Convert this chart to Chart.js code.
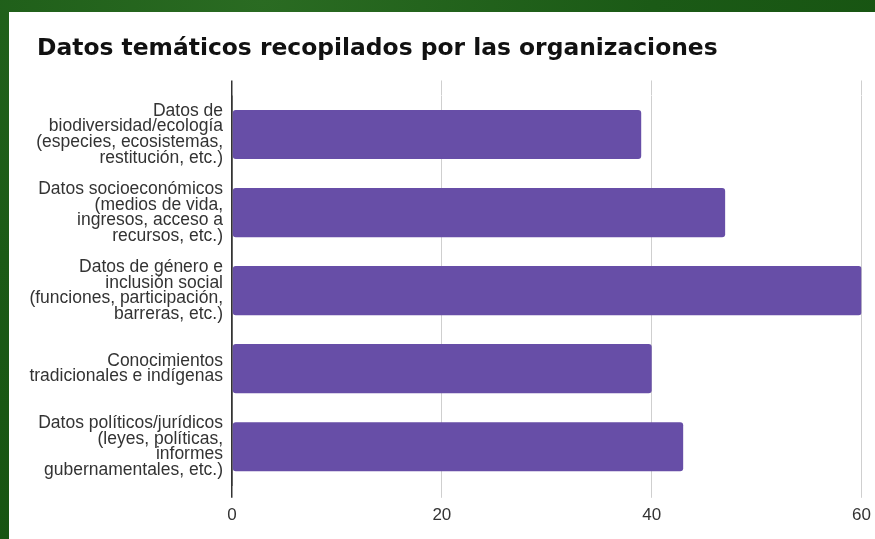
<!DOCTYPE html>
<html>
<head>
<meta charset="utf-8">
<script src="https://cdn.jsdelivr.net/npm/chart.js@4.4.1/dist/chart.umd.min.js"></script>
<style>
  html, body { margin: 0; padding: 0; }
  body {
    width: 875px; height: 539px; overflow: hidden; position: relative;
    background: radial-gradient(ellipse at 30% 0%, #2a6b22 0%, #1b5a16 45%, #15500f 100%);
  }
  #panel {
    position: absolute; left: 9px; top: 12px; width: 866px; height: 527px;
    background: #ffffff;
  }
</style>
</head>
<body>
<div id="panel"><canvas id="c"></canvas></div>
<script>
const titleText = 'Datos temáticos recopilados por las organizaciones';
const categories = [
  ['Datos de', 'biodiversidad/ecología', '(especies, ecosistemas,', 'restitución, etc.)'],
  ['Datos socioeconómicos', '(medios de vida,', 'ingresos, acceso a', 'recursos, etc.)'],
  ['Datos de género e', 'inclusión social', '(funciones, participación,', 'barreras, etc.)'],
  ['Conocimientos', 'tradicionales e indígenas'],
  ['Datos políticos/jurídicos', '(leyes, políticas,', 'informes', 'gubernamentales, etc.)']
];
const values = [39, 47, 60, 40, 43];
const xTicks = [0, 20, 40, 60];

const gridColor = ctx => (ctx.tick && ctx.tick.value === 0) ? '#333333' : '#cfcfcf';
const gridWidth = ctx => (ctx.tick && ctx.tick.value === 0) ? 1.5 : 1;

// shift the title a little to the right of the label column
const titleShift = {
  id: 'titleShift',
  afterLayout(chart) {
    if (chart.titleBlock) { chart.titleBlock.left += 8; chart.titleBlock.right += 8; }
  }
};

new Chart(document.getElementById('c'), {
  type: 'bar',
  plugins: [titleShift],
  data: {
    labels: categories,
    datasets: [{
      data: values,
      backgroundColor: '#674ea7',
      borderRadius: 3,
      borderSkipped: false,
      barPercentage: 0.63,
      categoryPercentage: 1
    }]
  },
  options: {
    indexAxis: 'y',
    responsive: true,
    maintainAspectRatio: false,
    animation: false,
    layout: { padding: { left: 20, right: 1, top: 0, bottom: 5.8 } },
    plugins: {
      legend: { display: false },
      tooltip: { enabled: false },
      title: {
        display: true,
        text: titleText,
        align: 'start',
        color: '#111111',
        font: { family: 'DejaVu Sans', size: 23.4, weight: 'bold' },
        padding: { top: 23, bottom: 17.4 }
      }
    },
    scales: {
      x: {
        min: 0, max: 60,
        afterBuildTicks: s => { s.ticks = xTicks.map(v => ({ value: v })); },
        grid: { color: gridColor, lineWidth: gridWidth, drawTicks: true, tickLength: 12 },
        border: { display: false },
        ticks: { color: '#333333', padding: 4, font: { family: 'Liberation Sans', size: 17, lineHeight: 1.612 } }
      },
      x2: {
        axis: 'x',
        position: 'top',
        min: 0, max: 60,
        afterBuildTicks: s => { s.ticks = xTicks.map(v => ({ value: v })); },
        grid: { color: gridColor, lineWidth: gridWidth, drawOnChartArea: false, drawTicks: true, tickLength: 15 },
        border: { display: false },
        ticks: { display: false }
      },
      y: {
        afterFit: s => { s.width = 203; },
        grid: { display: false, drawTicks: false },
        border: { display: true, color: '#333333', width: 1.5 },
        ticks: { color: '#333333', padding: 9, font: { family: 'Liberation Sans', size: 17.5, lineHeight: 0.9 } }
      }
    }
  }
});
</script>
</body>
</html>
